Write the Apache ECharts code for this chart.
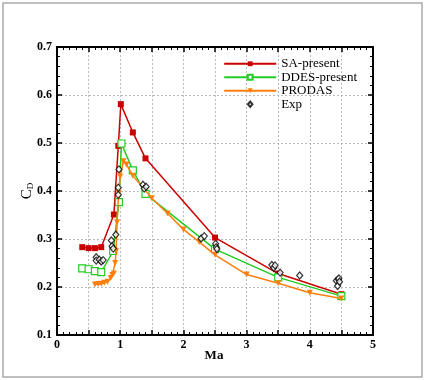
<!DOCTYPE html>
<html>
<head>
<meta charset="utf-8">
<script src="https://cdn.jsdelivr.net/npm/echarts@6/dist/echarts.min.js"></script>
<style>
  html, body { margin: 0; padding: 0; background: #fff; }
  #chart { width: 425px; height: 380px; }
</style>
</head>
<body>
<div id="chart"></div>
<script>
// Ma, Cd pairs
const saPresent = [
  [0.4, 0.283], [0.5, 0.281], [0.6, 0.281], [0.7, 0.283], [0.9, 0.351],
  [0.97, 0.494], [1.01, 0.581], [1.2, 0.522], [1.4, 0.468], [2.5, 0.303],
  [3.5, 0.228], [4.5, 0.185]
];
const ddesPresent = [
  [0.4, 0.239], [0.5, 0.237], [0.6, 0.233], [0.7, 0.231], [0.89, 0.275],
  [0.98, 0.377], [1.02, 0.499], [1.2, 0.443], [1.4, 0.394], [2.5, 0.279],
  [3.5, 0.22], [4.5, 0.181]
];
const prodas = [
  [0.6, 0.205], [0.65, 0.206], [0.7, 0.207], [0.75, 0.209], [0.8, 0.211],
  [0.85, 0.219], [0.875, 0.225], [0.9, 0.228], [0.92, 0.25], [0.935, 0.275],
  [0.95, 0.335], [0.975, 0.396], [1.0, 0.43], [1.05, 0.462], [1.1, 0.455],
  [1.2, 0.432], [1.5, 0.385], [1.75, 0.353], [2.0, 0.32], [2.25, 0.294],
  [2.5, 0.267], [3.0, 0.226], [3.5, 0.208], [4.0, 0.188], [4.5, 0.176]
];
const expData = [
  [0.62, 0.262], [0.62, 0.255], [0.67, 0.257], [0.7, 0.253], [0.73, 0.256],
  [0.86, 0.297], [0.87, 0.285], [0.89, 0.28], [0.93, 0.309], [0.97, 0.392],
  [0.97, 0.407], [0.98, 0.445],
  [1.36, 0.413], [1.38, 0.405], [1.41, 0.409],
  [2.28, 0.301], [2.33, 0.306], [2.51, 0.29], [2.52, 0.283], [2.53, 0.279],
  [3.4, 0.246], [3.43, 0.24], [3.45, 0.245], [3.53, 0.23], [3.84, 0.224],
  [4.42, 0.213], [4.45, 0.216], [4.46, 0.218], [4.44, 0.202], [4.47, 0.211]
];

const serif = "Liberation Serif";

const chart = echarts.init(document.getElementById("chart"));

// tick styling shared by all four sides of the frame
const tickSide = {
  axisLine: { show: true, onZero: false, lineStyle: { color: "#000", width: 2 } },
  axisTick: { show: true, inside: true, length: 5, lineStyle: { color: "#000", width: 1.5 } },
  minorTick: { show: true, splitNumber: 5, length: 3, lineStyle: { color: "#000", width: 1 } },
};

// small diamond centred in a box as wide as the legend lines
const expLegendIcon = "path://M0,0M52,8M23,4L26,0.5L29,4L26,7.5Z";

const option = {
  animation: false,
  backgroundColor: "#fff",
  graphic: [
    {
      type: "rect",
      shape: { x: 3, y: 3, width: 419, height: 374 },
      style: { fill: "none", stroke: "#aaa", lineWidth: 1.5 },
      silent: true,
    },
    // axis titles
    {
      type: "text",
      x: 214,
      y: 356,
      style: {
        text: "Ma", fontFamily: serif, fontSize: 13, fontWeight: "bold", fill: "#000",
        align: "center", verticalAlign: "middle",
      },
    },
    {
      type: "text",
      x: 27,
      y: 191,
      rotation: Math.PI / 2,
      style: {
        text: "{c|C}{d|D}",
        align: "center",
        verticalAlign: "middle",
        rich: {
          c: { fontFamily: serif, fontSize: 15, fill: "#000" },
          d: { fontFamily: serif, fontSize: 9, fill: "#000", padding: [8, 0, 0, 0] },
        },
      },
    },
  ],
  grid: { left: 57, right: 52, top: 47, bottom: 45 },
  legend: {
    right: 63,
    top: 52,
    orient: "vertical",
    itemWidth: 52,
    itemHeight: 6,
    itemGap: 0,
    textStyle: { fontFamily: serif, fontSize: 13, color: "#000", lineHeight: 13.5 },
    data: [
      "SA-present",
      "DDES-present",
      "PRODAS",
      { name: "Exp", icon: expLegendIcon },
    ],
  },
  xAxis: [
    {
      type: "value",
      min: 0,
      max: 5,
      interval: 0.5,
      ...tickSide,
      axisLabel: {
        fontFamily: serif, fontSize: 12, fontWeight: "bold", color: "#000", margin: 4,
        formatter: (v) => (Math.abs(v - Math.round(v)) < 1e-6 ? String(Math.round(v)) : ""),
      },
      splitLine: { show: true, lineStyle: { color: "#bbb", type: [2, 2], width: 1 } },
    },
    {
      type: "value",
      position: "top",
      min: 0,
      max: 5,
      interval: 0.5,
      ...tickSide,
      axisLabel: { show: false },
      splitLine: { show: false },
    },
  ],
  yAxis: [
    {
      type: "value",
      min: 0.1,
      max: 0.7,
      interval: 0.1,
      ...tickSide,
      axisLabel: {
        fontFamily: serif, fontSize: 12, fontWeight: "bold", color: "#000", margin: 5,
        formatter: (v) => v.toFixed(1),
      },
      splitLine: { show: true, lineStyle: { color: "#bbb", type: [2, 2], width: 1 } },
    },
    {
      type: "value",
      position: "right",
      min: 0.1,
      max: 0.7,
      interval: 0.1,
      ...tickSide,
      axisLabel: { show: false },
      splitLine: { show: false },
    },
  ],
  series: [
    {
      name: "SA-present",
      type: "line",
      data: saPresent,
      symbol: "rect",
      symbolSize: 6,
      color: "#cc0000",
      lineStyle: { color: "#cc0000", width: 1.5 },
      itemStyle: { color: "#cc0000" },
      z: 3,
    },
    {
      name: "DDES-present",
      type: "line",
      data: ddesPresent,
      symbol: "rect",
      symbolSize: 7,
      color: "#22cc22",
      lineStyle: { color: "#22cc22", width: 1.5 },
      itemStyle: { color: "#fff", borderColor: "#22cc22", borderWidth: 1.2 },
      z: 4,
    },
    {
      name: "PRODAS",
      type: "line",
      data: prodas,
      symbol: "triangle",
      symbolRotate: 180,
      symbolSize: 6,
      color: "#ff7f0e",
      lineStyle: { color: "#ff7f0e", width: 1.5 },
      itemStyle: { color: "#ff7f0e" },
      z: 5,
    },
    {
      name: "Exp",
      type: "scatter",
      data: expData,
      symbol: "diamond",
      symbolSize: [6, 7],
      color: "#000",
      itemStyle: { color: "#fff", borderColor: "#000", borderWidth: 1.2 },
      z: 6,
    },
  ],
};

chart.setOption(option);
</script>
</body>
</html>
